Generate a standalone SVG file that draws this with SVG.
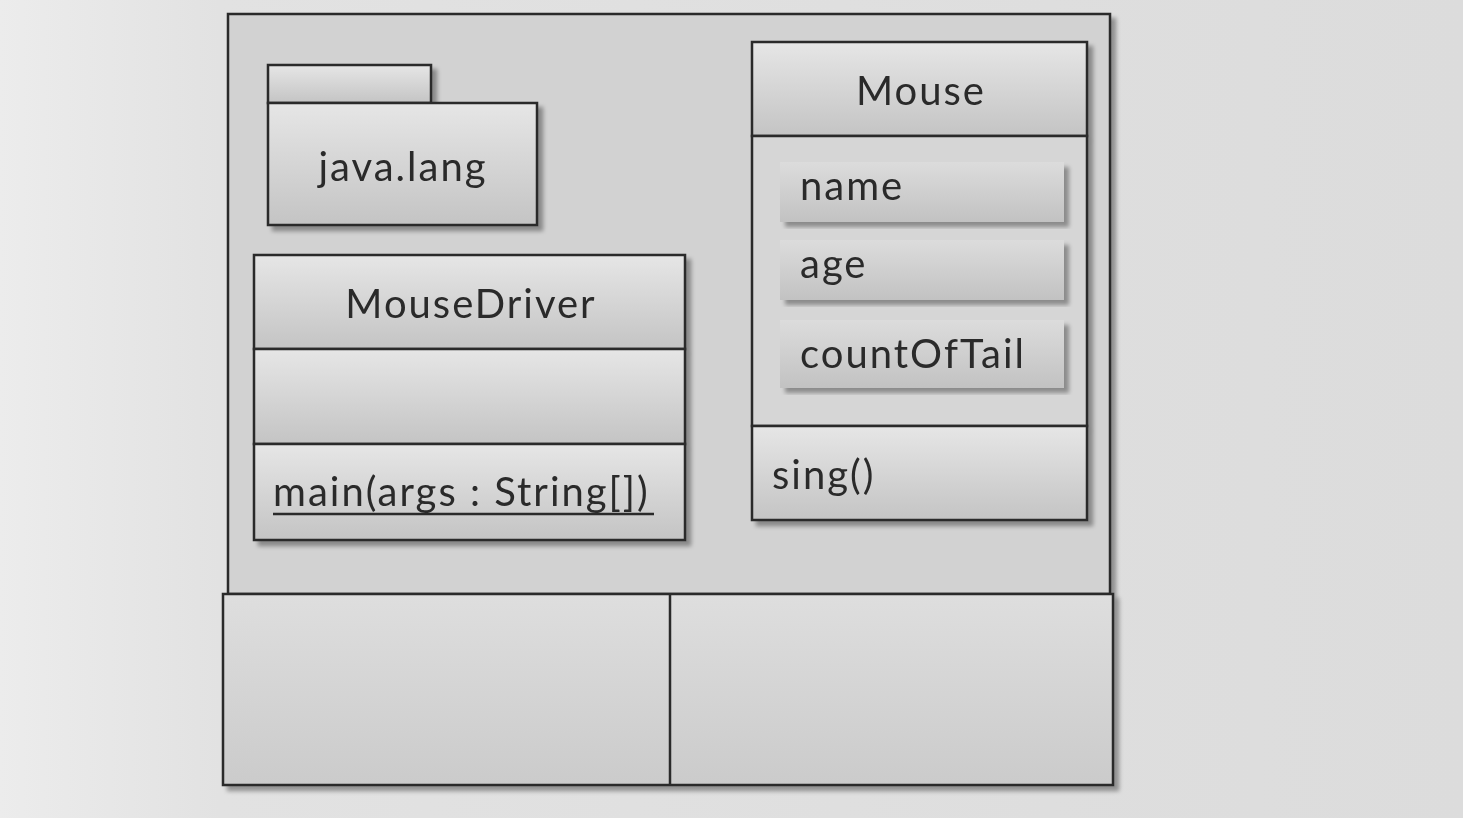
<svg xmlns="http://www.w3.org/2000/svg" width="1463" height="818" viewBox="0 0 1463 818">
  <defs>
    <linearGradient id="page" x1="0" y1="0" x2="1" y2="0">
      <stop offset="0" stop-color="#ececec"/>
      <stop offset="0.15" stop-color="#e2e2e2"/>
      <stop offset="1" stop-color="#dcdcdc"/>
    </linearGradient>
    <linearGradient id="cell" x1="0" y1="0" x2="0" y2="1">
      <stop offset="0" stop-color="#e6e6e6"/>
      <stop offset="1" stop-color="#c4c4c4"/>
    </linearGradient>
    <linearGradient id="bar" x1="0" y1="0" x2="0" y2="1">
      <stop offset="0" stop-color="#dcdcdc"/>
      <stop offset="1" stop-color="#c2c2c2"/>
    </linearGradient>
    <linearGradient id="lower" x1="0" y1="0" x2="0" y2="1">
      <stop offset="0" stop-color="#dedede"/>
      <stop offset="1" stop-color="#cbcbcb"/>
    </linearGradient>
    <filter id="shadow" x="-5%" y="-5%" width="115%" height="115%">
      <feGaussianBlur in="SourceAlpha" stdDeviation="2"/>
      <feOffset dx="5" dy="5" result="b"/>
      <feComponentTransfer><feFuncA type="linear" slope="0.35"/></feComponentTransfer>
      <feMerge><feMergeNode/><feMergeNode in="SourceGraphic"/></feMerge>
    </filter>
  </defs>
  <style>
    .box { stroke: #2a2a2a; stroke-width: 2.5; }
    .line { stroke: #2a2a2a; stroke-width: 2.5; fill: none; }
    .t { font-family: Lato, "Open Sans", sans-serif; font-size: 40px; letter-spacing: 2px; fill: #2b2b2b; }
    .mid { text-anchor: middle; }
  </style>

  <!-- page -->
  <rect x="0" y="0" width="1463" height="818" fill="url(#page)"/>

  <!-- outer frame with two lower compartments -->
  <g id="frame" filter="url(#shadow)">
    <rect class="box" x="228" y="14" width="882" height="580" fill="#d2d2d2"/>
    <rect class="box" x="223" y="594" width="890" height="191" fill="url(#lower)"/>
    <line class="line" x1="670" y1="594" x2="670" y2="785"/>
  </g>

  <!-- package java.lang -->
  <g id="pkg-java-lang" filter="url(#shadow)">
    <rect class="box" x="268" y="65" width="163" height="38" fill="url(#cell)"/>
    <rect class="box" x="268" y="103" width="269" height="122" fill="url(#cell)"/>
    <text class="t mid" x="403" y="181">java.lang</text>
  </g>

  <!-- class MouseDriver -->
  <g id="class-MouseDriver" filter="url(#shadow)">
    <rect class="box" x="254" y="255" width="431" height="94" fill="url(#cell)"/>
    <rect class="box" x="254" y="349" width="431" height="95" fill="url(#cell)"/>
    <rect class="box" x="254" y="444" width="431" height="96" fill="url(#cell)"/>
    <text class="t mid" x="471" y="318">MouseDriver</text>
    <text class="t" x="273" y="506">main(args : String[])</text>
    <line class="line" x1="273" y1="514" x2="654" y2="514"/>
  </g>

  <!-- class Mouse -->
  <g id="class-Mouse" filter="url(#shadow)">
    <rect class="box" x="752" y="42" width="335" height="94" fill="url(#cell)"/>
    <rect class="box" x="752" y="136" width="335" height="290" fill="#d6d6d6"/>
    <rect class="box" x="752" y="426" width="335" height="94" fill="url(#cell)"/>
    <text class="t mid" x="921" y="105">Mouse</text>
    <text class="t" x="772" y="489">sing()</text>
  </g>

  <!-- attributes of Mouse -->
  <g id="attr-name" filter="url(#shadow)">
    <rect x="780" y="162" width="284" height="60" fill="url(#bar)"/>
    <text class="t" x="800" y="200">name</text>
  </g>
  <g id="attr-age" filter="url(#shadow)">
    <rect x="780" y="240" width="284" height="60" fill="url(#bar)"/>
    <text class="t" x="800" y="278">age</text>
  </g>
  <g id="attr-countOfTail" filter="url(#shadow)">
    <rect x="780" y="320" width="284" height="68" fill="url(#bar)"/>
    <text class="t" x="800" y="368">countOfTail</text>
  </g>

  <!-- no connectors in this diagram -->
  <g id="connectors"/>
</svg>
